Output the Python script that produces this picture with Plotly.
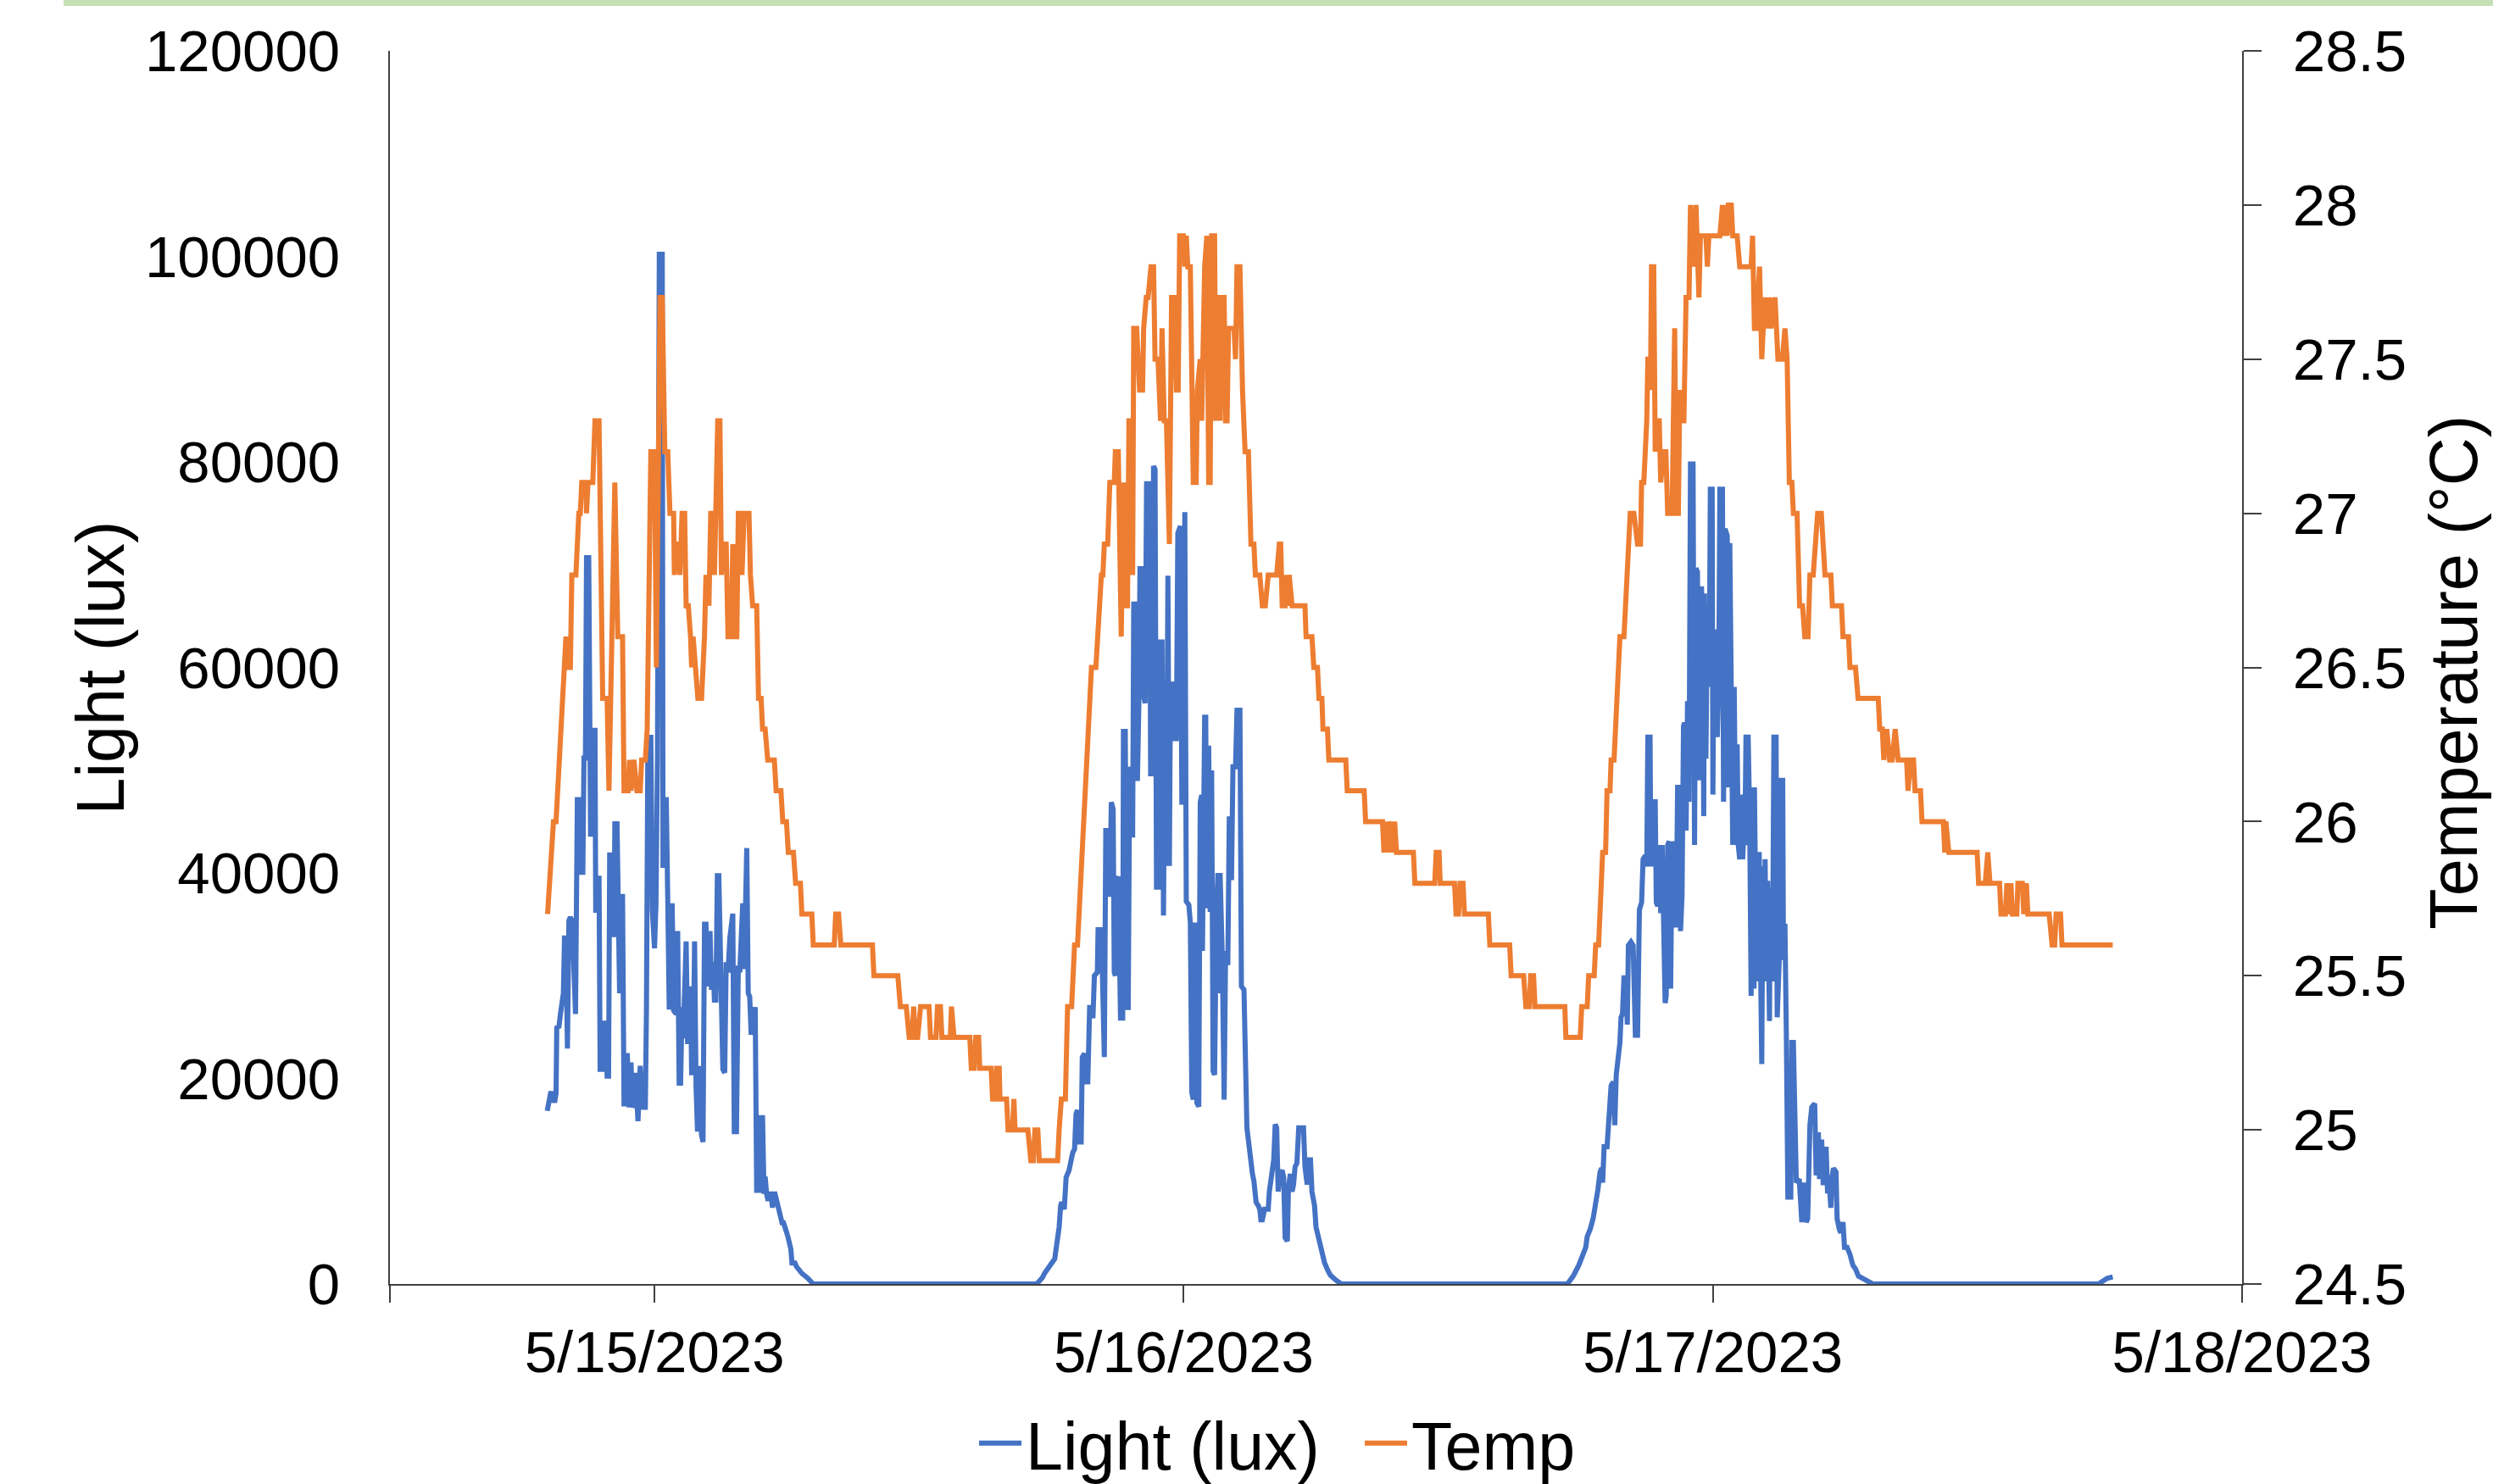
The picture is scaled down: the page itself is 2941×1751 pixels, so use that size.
import pandas as pd
import plotly.graph_objects as go

# Time stamps are minutes after 2023-05-15 00:00
BASE = pd.Timestamp("2023-05-15 00:00")

# ---------------- Light (lux) ----------------
light_min_day1 = [-292, -287, -283, -279, -275, -271, -268, -266, -260, -256, -252, -248, -245, -241, -237, -233, -229, -225, -221, -215,
                  -210, -202, -198, -195, -192, -188, -185, -179, -174, -169, -168, -162, -160, -156, -151, -148, -141, -137, -133, -129,
                  -125, -122, -118, -114, -110, -108, -102, -98, -95, -91, -87, -83, -79, -77, -74, -69, -64, -60, -56, -52,
                  -48, -45, -39, -33, -25, -22, -18, -10, -6, 0, 4, 8, 13, 21, 23, 26, 28, 32, 36, 40,
                  44, 48, 52, 59, 63, 67, 71, 75, 78, 86, 90, 94, 98, 101, 105, 109, 113, 117, 121, 125,
                  128, 132, 136, 140, 144, 148, 151, 155, 159, 163, 167, 171, 175, 182, 186, 191, 195, 200, 205, 213,
                  217, 223, 228, 232, 236, 240, 244, 248, 251, 255, 259, 263, 267, 269, 274, 278, 286, 290, 294, 298,
                  301, 305, 309, 313, 317, 321, 324, 328, 332, 336, 340, 344, 347, 351, 355, 359, 363, 367, 371, 374,
                  382, 386, 394, 401, 417, 432]
light_lux_day1 = [16850, 18200, 18530, 18530, 17860, 17860, 18530, 24930, 25060, 26270, 27620, 28290, 33680, 33680, 22910, 35360, 35690, 35360, 32330, 26270,
                  47140, 47140, 40070, 40070, 51170, 51170, 70690, 70690, 43770, 43770, 53870, 53870, 36370, 36370, 39730, 20890, 20890, 25600, 24930, 20220,
                  20220, 41750, 41750, 34010, 34010, 44780, 44780, 28630, 28290, 37710, 37710, 17520, 17520, 22230, 22230, 17190, 21560, 17190, 17520, 20550,
                  16850, 15840, 21220, 17190, 17190, 26610, 53190, 53190, 36370, 32670, 37040, 51170, 100200, 100200, 40740, 40740, 47140, 47140, 37380, 26950,
                  26950, 37040, 26610, 26270, 34350, 19540, 19540, 26950, 23910, 33340, 23580, 23580, 28960, 20550, 20550, 33340, 19200, 14830, 21220, 14490,
                  14490, 13820, 35020, 35020, 28960, 32000, 34350, 28630, 31320, 27620, 27620, 39730, 39730, 27620, 20890, 20550, 31320, 30310, 33680, 36030,
                  14830, 14830, 30980, 30310, 36030, 37040, 30650, 42420, 42420, 28290, 27950, 24250, 26950, 24250, 26950, 9110, 9110, 16180, 16180, 8770,
                  10460, 8770, 8100, 8770, 8770, 7430, 8770, 8770, 8100, 7430, 6750, 6420, 5950, 5950, 5280, 5070, 4600, 4060, 3390, 2040,
                  2040, 1710, 1370, 1030, 560, 0]

light_min_day2 = [1040, 1055, 1062, 1074, 1082, 1089, 1093, 1101, 1105, 1108, 1115, 1120, 1128, 1132, 1138, 1143, 1147, 1151, 1155, 1161,
                  1164, 1170, 1174, 1179, 1184, 1189, 1193, 1197, 1205, 1207, 1216, 1220, 1224, 1228, 1233, 1235, 1239, 1243, 1248, 1251,
                  1254, 1258, 1262, 1268, 1274, 1276, 1281, 1285, 1289, 1293, 1297, 1301, 1304, 1312, 1314, 1318, 1321, 1328, 1331, 1335,
                  1339, 1347, 1350, 1354, 1358, 1362, 1366, 1371, 1376, 1379, 1381, 1385, 1389, 1393, 1397, 1401, 1404, 1408, 1412, 1416,
                  1420, 1424, 1431, 1435, 1439, 1443, 1447, 1454, 1458, 1462, 1466, 1471, 1476, 1481, 1485, 1489, 1491, 1497, 1500, 1502,
                  1508, 1512, 1516, 1520, 1524, 1529, 1533, 1535, 1539, 1545, 1550, 1554, 1560, 1564, 1570, 1574, 1581, 1585, 1593, 1597,
                  1604, 1612, 1616, 1622, 1627, 1631, 1637, 1643, 1647, 1650, 1654, 1660, 1670, 1673, 1685, 1689, 1693, 1697, 1702, 1708,
                  1712, 1716, 1722, 1725, 1730, 1735, 1739, 1743, 1748, 1753, 1762, 1766, 1770, 1776, 1780, 1785, 1789, 1796, 1800, 1808,
                  1816, 1823, 1831, 1839, 1854, 1869]
light_lux_day2 = [0, 590, 1070, 1760, 2100, 2450, 3480, 5540, 7610, 7960, 7270, 10370, 11060, 12090, 12780, 13120, 16570, 16910, 13810, 13810,
                  22080, 22420, 19670, 19670, 26900, 26900, 25870, 30000, 30340, 34480, 34480, 28280, 22080, 44120, 44120, 37920, 37920, 46880, 46190, 30340,
                  30000, 39300, 39650, 25870, 25870, 53770, 53770, 26900, 26900, 50330, 49640, 43440, 66170, 66170, 48950, 56520, 69610, 69610, 57210, 56520,
                  77880, 77880, 49640, 49640, 79600, 79260, 38610, 38610, 62720, 46880, 62720, 35860, 58590, 40680, 68920, 40680, 58590, 57900, 58590, 53080,
                  53080, 73060, 73750, 46880, 46880, 75120, 37240, 36890, 35170, 18640, 17950, 35170, 17600, 17260, 46880, 47570, 32410, 55150, 55150, 36550,
                  52390, 36200, 49980, 20700, 20360, 35860, 40000, 28280, 40000, 31720, 17950, 32410, 31040, 45500, 39300, 50330, 50330, 55830, 55830, 28970,
                  28630, 15190, 13810, 12440, 10710, 10020, 7960, 7610, 7270, 6240, 6240, 7270, 7270, 8990, 12090, 15540, 15190, 8990, 10710, 11060,
                  10370, 4510, 4170, 9330, 10710, 8990, 9680, 11400, 11750, 15190, 15190, 15190, 11400, 9680, 12090, 12090, 8990, 7610, 5540, 4170,
                  3140, 2100, 1410, 860, 380, 0]

light_min_day3 = [2484, 2500, 2515, 2527, 2534, 2538, 2546, 2554, 2561, 2567, 2573, 2577, 2580, 2584, 2592, 2596, 2600, 2603, 2609, 2613,
                  2617, 2621, 2627, 2630, 2634, 2638, 2644, 2647, 2650, 2657, 2663, 2669, 2675, 2680, 2686, 2690, 2696, 2700, 2703, 2709,
                  2711, 2716, 2723, 2726, 2730, 2734, 2738, 2742, 2746, 2750, 2753, 2757, 2761, 2765, 2769, 2773, 2776, 2780, 2784, 2788,
                  2792, 2796, 2800, 2803, 2807, 2811, 2815, 2819, 2826, 2830, 2834, 2838, 2842, 2846, 2849, 2853, 2855, 2857, 2861, 2865,
                  2870, 2873, 2878, 2880, 2883, 2886, 2888, 2892, 2896, 2899, 2906, 2909, 2913, 2919, 2923, 2926, 2930, 2934, 2938, 2942,
                  2946, 2949, 2953, 2957, 2961, 2965, 2967, 2970, 2976, 2980, 2984, 2988, 2992, 2993, 2996, 3001, 3006, 3009, 3013, 3016,
                  3020, 3022, 3026, 3029, 3032, 3034, 3036, 3042, 3046, 3052, 3055, 3059, 3062, 3065, 3070, 3072, 3076, 3080, 3084, 3092,
                  3095, 3099, 3107, 3115, 3119, 3122, 3129, 3134, 3138, 3144, 3149, 3157, 3161, 3167, 3170, 3176, 3180, 3184, 3188, 3192,
                  3195, 3201, 3205, 3208, 3215, 3218, 3224, 3228, 3234, 3238, 3245, 3253, 3261, 3268, 3276, 3292, 3315, 3929, 3953, 3968]
light_lux_day3 = [0, 770, 1820, 2870, 3570, 4620, 5320, 6360, 7760, 9160, 10910, 11260, 9860, 13360, 13360, 16150, 17560, 19310, 19660, 15460,
                  20350, 21400, 23500, 25950, 26290, 29790, 29790, 25250, 32940, 33290, 32940, 24200, 24200, 36430, 37130, 41330, 41680, 40630, 53220, 53220,
                  40630, 46920, 46920, 37130, 36780, 42720, 36080, 42720, 31540, 27340, 28040, 42720, 43080, 28740, 43080, 35040, 43080, 34690, 48320, 48320,
                  34340, 37830, 54270, 54620, 44130, 56710, 46920, 79790, 79790, 42720, 69650, 69300, 49020, 67900, 67900, 60910, 45530, 67200, 51120, 65810,
                  58110, 77340, 77340, 47620, 63710, 56710, 63010, 53220, 58810, 77340, 77340, 46920, 73500, 72800, 48320, 72100, 58110, 42720, 58110, 42720,
                  52520, 42720, 41330, 47620, 41330, 44480, 42720, 53220, 53220, 45530, 28040, 48320, 28740, 48320, 38530, 29440, 42030, 29440, 21400, 40630,
                  29440, 41330, 29440, 39230, 29440, 25590, 38530, 29440, 53220, 53220, 25950, 31540, 32940, 49020, 49020, 31540, 35040, 23850, 8460, 8460,
                  23500, 23500, 9860, 10210, 6020, 6020, 9860, 6020, 6360, 15460, 17210, 17560, 10560, 14760, 10210, 14060, 9860, 9860, 13360, 8810,
                  10560, 7410, 10560, 11260, 10910, 6360, 5320, 4970, 6020, 3570, 3570, 2870, 1820, 1470, 770, 420, 0, 0, 556, 687]

# ---------------- Temperature (°C) ----------------
temp_min_a = [-291, -275, -268, -241, -237, -229, -225, -214, -206, -202, -198, -187, -185, -181, -168, -162, -151, -141, -129, -124,
              -108, -100, -87, -83, -72, -68, -64, -56, -48, -39, -35, -25, -20, -10, 0, 5, 15, 21, 28, 36,
              42, 52, 54, 59, 67, 69, 75, 82, 86, 92, 98, 101, 105, 113, 118, 128, 136, 140, 148, 153,
              159, 163, 168, 172, 178, 182, 186, 195, 200, 209, 213, 217, 224, 228, 232, 238, 244, 257, 261, 267,
              278, 283, 290, 294, 301, 308, 326, 331, 344, 349, 359, 364, 378, 384, 397, 401, 428, 432, 489, 493,
              501, 507, 593, 597, 662, 669, 685, 693, 701, 705, 709, 716, 724, 747, 751, 766, 770, 778, 782, 805,
              808, 815, 858, 862, 870, 874, 882, 885, 916, 920, 928, 931, 938, 940, 958, 962, 974, 978, 981, 1016,
              1024, 1031, 1035, 1043, 1047, 1097]
temp_c_a = [25.7, 26.0, 26.0, 26.6, 26.5, 26.5, 26.8, 26.8, 27.0, 27.0, 27.1, 27.1, 27.0, 27.1, 27.1, 27.3, 27.3, 26.4, 26.4, 26.1,
            27.1, 26.6, 26.6, 26.1, 26.1, 26.2, 26.1, 26.2, 26.1, 26.1, 26.2, 26.2, 26.3, 27.2, 27.2, 26.5, 27.7, 27.7, 27.2, 27.2,
            27.0, 27.0, 26.8, 26.9, 26.9, 26.8, 27.0, 27.0, 26.7, 26.7, 26.6, 26.5, 26.6, 26.5, 26.4, 26.4, 26.6, 26.8, 26.7, 27.0,
            27.0, 26.8, 27.1, 27.3, 27.3, 26.8, 26.9, 26.9, 26.6, 26.6, 26.9, 26.6, 26.6, 27.0, 27.0, 26.8, 27.0, 27.0, 26.8, 26.7,
            26.7, 26.4, 26.4, 26.3, 26.3, 26.2, 26.2, 26.1, 26.1, 26.0, 26.0, 25.9, 25.9, 25.8, 25.8, 25.7, 25.7, 25.6, 25.6, 25.7,
            25.7, 25.6, 25.6, 25.5, 25.5, 25.4, 25.4, 25.3, 25.3, 25.4, 25.3, 25.3, 25.4, 25.4, 25.3, 25.3, 25.4, 25.4, 25.3, 25.3,
            25.4, 25.3, 25.3, 25.2, 25.2, 25.3, 25.3, 25.2, 25.2, 25.1, 25.1, 25.2, 25.2, 25.1, 25.1, 25.0, 25.0, 25.1, 25.0, 25.0,
            24.9, 24.9, 25.0, 25.0, 24.9, 24.9]

temp_min_b = [1101, 1107, 1118, 1124, 1135, 1143, 1151, 1189, 1201, 1216, 1220, 1224, 1233, 1239, 1251, 1254, 1262, 1270, 1276, 1283,
              1287, 1291, 1297, 1301, 1304, 1312, 1320, 1328, 1331, 1338, 1343, 1351, 1358, 1362, 1370, 1377, 1381, 1387, 1393, 1401,
              1407, 1414, 1420, 1425, 1429, 1439, 1443, 1447, 1451, 1458, 1466, 1474, 1477, 1485, 1489, 1493, 1497, 1503, 1508, 1512,
              1516, 1524, 1527, 1531, 1535, 1539, 1545, 1550, 1554, 1558, 1562, 1577, 1581, 1585, 1593, 1600, 1607, 1616, 1623, 1631,
              1635, 1647, 1654, 1662, 1670, 1693, 1700, 1704, 1708, 1716, 1720, 1723, 1727, 1735, 1770, 1773, 1789, 1794, 1804, 1808,
              1816, 1819, 1831, 1835, 1881, 1885, 1931, 1935, 1981, 1985, 1991, 1996, 2004, 2008, 2014, 2019, 2065, 2069, 2123, 2127,
              2135, 2138, 2177, 2181, 2188, 2192, 2200, 2204, 2269, 2273, 2327, 2331, 2365, 2371, 2381, 2384, 2392, 2396, 2477, 2480,
              2519, 2523, 2538, 2542, 2557, 2561, 2569]
temp_c_b = [25.0, 25.1, 25.1, 25.4, 25.4, 25.6, 25.6, 26.5, 26.5, 26.8, 26.8, 26.9, 26.9, 27.1, 27.1, 27.2, 27.2, 26.6, 27.1, 26.7,
            26.7, 27.3, 27.3, 26.8, 27.6, 27.6, 27.4, 27.4, 27.6, 27.7, 27.7, 27.8, 27.8, 27.5, 27.5, 27.3, 27.6, 27.3, 27.3, 26.9,
            27.7, 27.7, 27.4, 27.4, 27.9, 27.9, 27.8, 27.9, 27.8, 27.8, 27.1, 27.1, 27.4, 27.5, 27.3, 27.5, 27.8, 27.9, 27.1, 27.1,
            27.9, 27.9, 27.3, 27.7, 27.7, 27.3, 27.7, 27.7, 27.3, 27.3, 27.6, 27.6, 27.5, 27.8, 27.8, 27.4, 27.2, 27.2, 26.9, 26.9,
            26.8, 26.8, 26.7, 26.7, 26.8, 26.8, 26.9, 26.9, 26.7, 26.7, 26.8, 26.7, 26.8, 26.7, 26.7, 26.6, 26.6, 26.5, 26.5, 26.4,
            26.4, 26.3, 26.3, 26.2, 26.2, 26.1, 26.1, 26.0, 26.0, 25.9, 26.0, 25.9, 26.0, 25.9, 26.0, 25.9, 25.9, 25.8, 25.8, 25.9,
            25.9, 25.8, 25.8, 25.7, 25.7, 25.8, 25.8, 25.7, 25.7, 25.6, 25.6, 25.5, 25.5, 25.4, 25.4, 25.5, 25.5, 25.4, 25.4, 25.3,
            25.3, 25.4, 25.4, 25.5, 25.5, 25.6, 25.6]

temp_min_c = [2580, 2588, 2592, 2600, 2603, 2611, 2619, 2627, 2638, 2650, 2655, 2665, 2675, 2683, 2686, 2692, 2700, 2703, 2707, 2710,
              2713, 2719, 2723, 2729, 2734, 2738, 2746, 2752, 2757, 2769, 2773, 2776, 2780, 2786, 2790, 2796, 2801, 2807, 2815, 2819,
              2826, 2830, 2834, 2842, 2846, 2861, 2865, 2869, 2899, 2906, 2911, 2915, 2919, 2922, 2930, 2934, 2946, 2953, 2984, 2988,
              2993, 2998, 3007, 3013, 3021, 3026, 3034, 3038, 3049, 3057, 3069, 3076, 3082, 3088, 3095, 3099, 3109, 3116, 3124, 3130,
              3139, 3144, 3153, 3159, 3165, 3175, 3180, 3185, 3201, 3205, 3230, 3234, 3249, 3253, 3268, 3275, 3330, 3334, 3341, 3345,
              3353, 3361, 3368, 3376, 3384, 3407, 3411, 3418, 3426, 3430, 3445, 3449, 3507, 3511, 3514, 3522, 3599, 3603, 3621, 3628,
              3634, 3660, 3664, 3676, 3680, 3687, 3691, 3695, 3707, 3710, 3722, 3726, 3733, 3737, 3795, 3803, 3810, 3814, 3826, 3830,
              3968]
temp_c_c = [25.9, 25.9, 26.1, 26.1, 26.2, 26.2, 26.4, 26.6, 26.6, 26.9, 27.0, 27.0, 26.9, 26.9, 27.1, 27.1, 27.3, 27.5, 27.5, 27.4,
            27.8, 27.8, 27.2, 27.3, 27.3, 27.1, 27.2, 27.2, 27.0, 27.0, 27.6, 27.6, 27.0, 27.0, 27.4, 27.3, 27.3, 27.7, 27.7, 28.0,
            27.8, 27.9, 28.0, 27.7, 27.9, 27.9, 27.8, 27.9, 27.9, 28.0, 27.9, 28.0, 27.9, 28.0, 28.0, 27.9, 27.9, 27.8, 27.8, 27.9,
            27.6, 27.6, 27.8, 27.5, 27.7, 27.6, 27.7, 27.6, 27.7, 27.5, 27.5, 27.6, 27.5, 27.1, 27.1, 27.0, 27.0, 26.7, 26.7, 26.6,
            26.6, 26.8, 26.8, 26.9, 27.0, 27.0, 26.9, 26.8, 26.8, 26.7, 26.7, 26.6, 26.6, 26.5, 26.5, 26.4, 26.4, 26.3, 26.3, 26.2,
            26.3, 26.2, 26.2, 26.3, 26.2, 26.2, 26.1, 26.2, 26.2, 26.1, 26.1, 26.0, 26.0, 25.9, 26.0, 25.9, 25.9, 25.8, 25.8, 25.9,
            25.8, 25.8, 25.7, 25.7, 25.8, 25.7, 25.8, 25.7, 25.7, 25.8, 25.8, 25.7, 25.8, 25.7, 25.7, 25.6, 25.6, 25.7, 25.7, 25.6,
            25.6]

# ---------------- Axes ----------------
x_tick_vals = ["2023-05-14 12:00", "2023-05-15", "2023-05-16", "2023-05-17", "2023-05-18"]
x_tick_text = ["", "5/15/2023", "5/16/2023", "5/17/2023", "5/18/2023"]
light_tick_vals = [0, 20000, 40000, 60000, 80000, 100000, 120000]
light_tick_text = ["0", "20000", "40000", "60000", "80000", "100000", "120000"]
temp_tick_vals = [24.5, 25, 25.5, 26, 26.5, 27, 27.5, 28, 28.5]
temp_tick_text = ["24.5", "25", "25.5", "26", "26.5", "27", "27.5", "28", "28.5"]

pairs = [(light_min_day1, light_lux_day1), (light_min_day2, light_lux_day2), (light_min_day3, light_lux_day3),
         (temp_min_a, temp_c_a), (temp_min_b, temp_c_b), (temp_min_c, temp_c_c)]
for t, v in pairs:
    assert len(t) == len(v), (len(t), len(v))


def to_time(minutes):
    return BASE + pd.to_timedelta(minutes, unit="min")


light_x = to_time(light_min_day1 + light_min_day2 + light_min_day3)
light_y = light_lux_day1 + light_lux_day2 + light_lux_day3
temp_x = to_time(temp_min_a + temp_min_b + temp_min_c)
temp_y = temp_c_a + temp_c_b + temp_c_c

FONT = "Liberation Sans, Arial, Helvetica, sans-serif"
AXIS_COLOR = "#404040"

fig = go.Figure()
fig.add_trace(go.Scatter(x=light_x, y=light_y, name="Light (lux)", mode="lines",
                         line=dict(color="#4472C4", width=6), yaxis="y"))
fig.add_trace(go.Scatter(x=temp_x, y=temp_y, name="Temp", mode="lines",
                         line=dict(color="#ED7D31", width=6), yaxis="y2"))

fig.update_layout(
    width=2941, height=1751,
    margin=dict(l=460, r=296, t=60, b=236, pad=0),
    paper_bgcolor="white", plot_bgcolor="white",
    font=dict(family=FONT, size=69, color="black"),
    showlegend=True,
    xaxis=dict(type="date", range=[x_tick_vals[0], x_tick_vals[-1]],
               tickmode="array", tickvals=x_tick_vals, ticktext=x_tick_text,
               ticks="outside", ticklen=20, tickwidth=2, tickcolor=AXIS_COLOR,
               showline=True, linecolor=AXIS_COLOR, linewidth=2,
               showgrid=False, zeroline=False, tickfont=dict(size=69),
               ticklabelstandoff=-1),
    yaxis=dict(range=[0, 120000], tickmode="array", tickvals=light_tick_vals, ticktext=light_tick_text,
               ticks="", showline=True, linecolor=AXIS_COLOR, linewidth=2,
               showgrid=False, zeroline=False, tickfont=dict(size=69),
               ticklabelstandoff=43),
    yaxis2=dict(range=[24.5, 28.5], overlaying="y", side="right", anchor="x",
                tickmode="array", tickvals=temp_tick_vals, ticktext=temp_tick_text,
                ticks="outside", ticklen=21, tickwidth=2, tickcolor=AXIS_COLOR,
                showline=True, linecolor=AXIS_COLOR, linewidth=2,
                showgrid=False, zeroline=False, tickfont=dict(size=69),
                ticklabelstandoff=23),
    legend=dict(orientation="h", xref="paper", x=0.3158, xanchor="left",
                yref="container", y=0.0274, yanchor="middle",
                font=dict(size=79), bgcolor="rgba(0,0,0,0)", itemwidth=50,
                entrywidth=390, entrywidthmode="pixels"),
    annotations=[
        dict(text="Light (lux)", xref="paper", yref="paper", x=-0.1564, y=0.4995,
             xanchor="center", yanchor="middle", textangle=-90, showarrow=False,
             font=dict(size=79, family=FONT, color="black")),
        dict(text="Temperature (°C)", xref="paper", yref="paper", x=1.1144, y=0.4964,
             xanchor="center", yanchor="middle", textangle=-90, showarrow=False,
             font=dict(size=79, family=FONT, color="black")),
    ],
    shapes=[
        dict(type="rect", xref="paper", yref="paper", x0=-0.1762, x1=1.14, y0=1.0364, y1=1.06,
             fillcolor="#C5E0B4", line=dict(width=0), layer="above"),
    ],
)

fig.write_html("out.html", config={"displayModeBar": False},
               post_script="document.body.style.margin='0';document.body.style.overflow='hidden';")
